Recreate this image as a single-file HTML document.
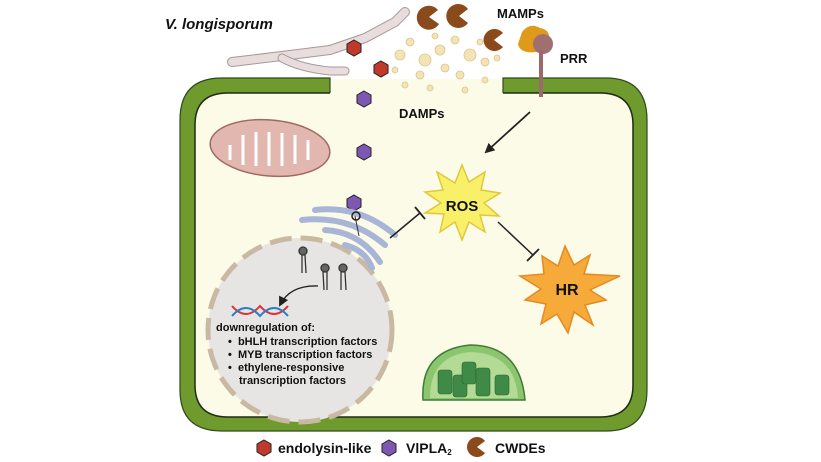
<!DOCTYPE html>
<html><head><meta charset="utf-8"><style>
html,body{margin:0;padding:0;background:#fff;}
svg{display:block;font-family:"Liberation Sans",Arial,sans-serif;}
</style></head><body>
<svg width="821" height="462" viewBox="0 0 821 462" xmlns="http://www.w3.org/2000/svg">
<defs>
<marker id="ar" markerWidth="10" markerHeight="10" refX="8" refY="5" orient="auto" markerUnits="userSpaceOnUse"><path d="M0,0 L10,5 L0,10 z" fill="#222"/></marker>
</defs>
<!-- cell wall -->
<path d="M330,78 L222,78 Q180,78 180,120 L180,390 Q180,431 222,431 L606,431 Q647,431 647,390 L647,120 Q647,78 606,78 L503,78 L503,93 L600,93 Q633,93 633,125 L633,385 Q633,417 600,417 L228,417 Q195,417 195,385 L195,125 Q195,93 228,93 L330,93 Z" fill="#6f9a2e" stroke="#2f4a1a" stroke-width="1.2"/>
<path d="M330,93 L228,93 Q195,93 195,125 L195,385 Q195,417 228,417 L600,417 Q633,417 633,385 L633,125 Q633,93 600,93 L503,93" fill="#fbfbe8" stroke="#1f2f15" stroke-width="1.5"/>
<rect x="331" y="79" width="171" height="15" fill="#fbfbe8"/>
<!-- hyphae -->
<g fill="none" stroke-linecap="round">
<path d="M232,62 L290,55 L330,50 L365,38 L395,22 L405,12" stroke="#a89898" stroke-width="10"/>
<path d="M232,62 L290,55 L330,50 L365,38 L395,22 L405,12" stroke="#e8dcdc" stroke-width="8"/>
<path d="M282,58 Q300,68 330,71 L345,71" stroke="#a89898" stroke-width="9"/>
<path d="M282,58 Q300,68 330,71 L345,71" stroke="#e8dcdc" stroke-width="7"/>
</g>
<text x="165" y="29" font-size="15" font-weight="bold" font-style="italic" fill="#111">V. longisporum</text>
<!-- DAMPs fragments -->
<g fill="#f3e3b5" stroke="#d9c58d" stroke-width="0.8">
<circle cx="410" cy="42" r="4"/><circle cx="400" cy="55" r="5"/><circle cx="425" cy="60" r="6"/><circle cx="440" cy="50" r="5"/><circle cx="455" cy="40" r="4"/>
<circle cx="470" cy="55" r="6"/><circle cx="445" cy="68" r="4"/><circle cx="420" cy="75" r="4"/><circle cx="460" cy="75" r="4"/><circle cx="480" cy="42" r="3"/>
<circle cx="435" cy="36" r="3"/><circle cx="395" cy="70" r="3"/><circle cx="485" cy="62" r="4"/><circle cx="430" cy="88" r="3"/><circle cx="465" cy="90" r="3"/><circle cx="405" cy="85" r="3"/><circle cx="497" cy="58" r="3"/><circle cx="485" cy="80" r="3"/>
</g>
<!-- CWDEs pacmen -->
<g fill="#8b4a1c">
<path d="M429,17 L438,10 A12,12 0 1,0 439,24 Z"/>
<path d="M459,16 L468,9 A12,12 0 1,0 468,23 Z"/>
<path d="M494,40 L503,33 A11,11 0 1,0 503,47 Z"/>
</g>
<text x="497" y="18" font-size="13" font-weight="bold" fill="#111">MAMPs</text>
<!-- PRR -->
<path d="M522,32 Q530,22 540,28 Q552,30 548,42 Q548,52 536,52 Q520,54 518,44 Z" fill="#e09a1a"/>
<circle cx="543" cy="44" r="10" fill="#a07070"/>
<line x1="541" y1="50" x2="541" y2="97" stroke="#9a6a6a" stroke-width="4"/>
<text x="560" y="63" font-size="13" font-weight="bold" fill="#111">PRR</text>
<!-- hexagons -->
<g stroke="#222" stroke-width="1">
<polygon points="354,40 361,44 361,52 354,56 347,52 347,44" fill="#c0392b"/>
<polygon points="381,61 388,65 388,73 381,77 374,73 374,65" fill="#c0392b"/>
<polygon points="364,91 371,95 371,103 364,107 357,103 357,95" fill="#7e57b2"/>
<polygon points="364,144 371,148 371,156 364,160 357,156 357,148" fill="#7e57b2"/>
<polygon points="354,195 361,199 361,207 354,211 347,207 347,199" fill="#7e57b2"/>
<polygon points="297,267 304,271 304,279 297,283 290,279 290,271" fill="#7e57b2"/>
</g>
<text x="399" y="118" font-size="13" font-weight="bold" fill="#111">DAMPs</text>
<!-- arrow PRR -> ROS -->
<line x1="530" y1="112" x2="486" y2="152" stroke="#222" stroke-width="1.8" marker-end="url(#ar)"/>
<!-- mitochondrion -->
<ellipse cx="270" cy="148" rx="60" ry="28" fill="#e2b7b0" stroke="#a06a62" stroke-width="1.5" transform="rotate(5 270 148)"/>
<g stroke="#fff" stroke-width="3" fill="none">
<path d="M230,145 L230,160 M243,135 L243,165 M256,132 L256,166 M269,132 L269,166 M282,133 L282,166 M295,135 L295,164 M308,140 L308,160"/>
</g>
<!-- nucleus -->
<circle cx="300" cy="330" r="92" fill="#e6e5e3" stroke="#c9b9a3" stroke-width="5" stroke-dasharray="22 9"/>
<!-- ER -->
<g fill="none" stroke="#a9b5d6" stroke-width="6" stroke-linecap="round">
<path d="M302,220 Q350,215 385,245"/>
<path d="M315,210 Q360,205 395,235"/>
<path d="M325,230 Q360,232 380,262"/>
<path d="M345,245 Q365,250 372,268"/>
</g>
<line x1="355" y1="216" x2="359" y2="236" stroke="#333" stroke-width="1"/>
<circle cx="356" cy="216" r="4" fill="none" stroke="#222" stroke-width="1.5"/>
<!-- receptors in nucleus -->
<g stroke="#333" stroke-width="1.3" fill="#666">
<circle cx="303" cy="251" r="4"/><line x1="302" y1="255" x2="302" y2="273"/><line x1="305" y1="255" x2="306" y2="273"/>
<circle cx="325" cy="268" r="4"/><line x1="323" y1="272" x2="324" y2="290"/><line x1="327" y1="272" x2="327" y2="290"/>
<circle cx="343" cy="268" r="4"/><line x1="341" y1="272" x2="341" y2="290"/><line x1="345" y1="272" x2="346" y2="290"/>
</g>
<path d="M318,286 Q290,285 280,305" stroke="#222" stroke-width="1.3" fill="none" marker-end="url(#ar)"/>
<!-- DNA -->
<path d="M232,306 Q246,322 260,306 Q274,322 288,306" stroke="#d33" stroke-width="2" fill="none"/>
<path d="M232,316 Q246,300 260,316 Q274,300 288,316" stroke="#2a7fc8" stroke-width="2" fill="none"/>
<g font-size="11" font-weight="bold" fill="#111">
<text x="216" y="331">downregulation of:</text>
<text x="228" y="345">•&#160; bHLH transcription factors</text>
<text x="228" y="358">•&#160; MYB transcription factors</text>
<text x="228" y="371">•&#160; ethylene-responsive</text>
<text x="239" y="384">transcription factors</text>
</g>
<!-- inhibition ER -> ROS -->
<line x1="390" y1="238" x2="420" y2="213" stroke="#222" stroke-width="1.5"/>
<line x1="415" y1="207" x2="425" y2="219" stroke="#222" stroke-width="1.8"/>
<!-- ROS star -->
<polygon points="462,165 469,182 485,172 481,190 500,193 484,203 499,216 480,215 485,232 469,222 462,240 455,222 440,232 444,214 425,213 441,203 425,192 443,190 437,172 455,183" fill="#f9f06a" stroke="#e0c83a" stroke-width="1.5"/>
<text x="462" y="211" font-size="15" font-weight="bold" text-anchor="middle" fill="#111">ROS</text>
<!-- ROS -> HR inhibition -->
<line x1="498" y1="222" x2="533" y2="255" stroke="#222" stroke-width="1.5"/>
<line x1="527" y1="261" x2="539" y2="249" stroke="#222" stroke-width="1.8"/>
<!-- HR star -->
<polygon points="565,246 574,265 590,255 584,274 620,276 590,290 606,300 585,305 593,325 574,312 568,333 557,314 541,324 546,304 525,300 541,289 520,276 544,274 542,256 558,266" fill="#f5aa3a" stroke="#e58a22" stroke-width="1.5"/>
<text x="567" y="295" font-size="16" font-weight="bold" text-anchor="middle" fill="#111">HR</text>
<!-- chloroplast -->
<path d="M423,400 Q420,350 470,345 Q520,345 525,400 Z" fill="#8bc66f" stroke="#3f7b3a" stroke-width="1.5"/>
<path d="M430,398 Q430,356 470,352 Q515,353 518,398 Z" fill="#b3db95"/>
<g fill="#3f8a46" stroke="#2b6530" stroke-width="0.6">
<rect x="438" y="370" width="14" height="24" rx="3"/><rect x="453" y="375" width="14" height="22" rx="3"/>
<rect x="462" y="362" width="14" height="22" rx="3"/><rect x="476" y="368" width="14" height="28" rx="3"/>
<rect x="495" y="375" width="14" height="20" rx="3"/>
</g>
<!-- legend -->
<polygon points="264,440 271,444 271,452 264,456 257,452 257,444" fill="#c0392b" stroke="#222"/>
<text x="278" y="453" font-size="14" font-weight="bold" fill="#111">endolysin-like</text>
<polygon points="389,440 396,444 396,452 389,456 382,452 382,444" fill="#7e57b2" stroke="#222"/>
<text x="406" y="453" font-size="14" font-weight="bold" fill="#111">VlPLA<tspan font-size="8" dy="2">2</tspan></text>
<path d="M477,447 L485,441 A10,10 0 1,0 485,453 Z" fill="#8b4a1c"/>
<text x="495" y="453" font-size="14" font-weight="bold" fill="#111">CWDEs</text>
</svg>
</body></html>
